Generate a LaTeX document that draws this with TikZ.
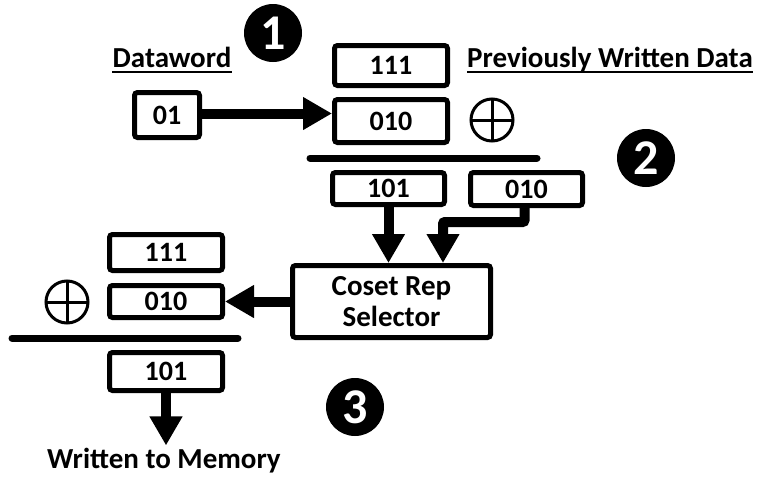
\documentclass[tikz,border=0pt]{standalone}
\usepackage{fontspec}
\setmainfont{Carlito}
\usetikzlibrary{arrows.meta,calc}

\tikzset{
  bitbox/.style={draw, line width=5pt, rounded corners=3pt, inner sep=0pt,
    font=\fontsize{28}{31}\selectfont\bfseries},
  label/.style={inner sep=0pt, font=\fontsize{29}{31}\selectfont\bfseries},
  stepnum/.style={circle, fill=black, text=white, minimum size=58pt, inner sep=0pt,
    font=\fontsize{50}{50}\selectfont\bfseries},
  flow/.style={line width=10pt, -{Triangle[width=31pt,length=29pt]}},
  rule/.style={line width=7pt, line cap=round},
  xorsym/.style={line width=3pt},
}

\begin{document}
\begin{tikzpicture}[x=1pt,y=-1pt]
\useasboundingbox (0,0) rectangle (761,480);

% step markers
\node[stepnum] (s1) at (273,33) {1};
\node[stepnum] (s2) at (646,158) {2};
\node[stepnum] (s3) at (355,407) {3};

% headings
\node[label, anchor=base] (dwlabel) at (172,67) {Dataword};
\draw[line width=2pt] ([yshift=-5pt]dwlabel.base west) -- ([yshift=-5pt]dwlabel.base east);
\node[label, anchor=base] (pwlabel) at (610,67) {Previously Written Data};
\draw[line width=2pt] ([yshift=-5pt]pwlabel.base west) -- ([yshift=-5pt]pwlabel.base east);

% step 1: dataword mapped and XORed with previous data
\node[bitbox, minimum width=65pt, minimum height=45pt] (dw) at (167,115) {01};
\node[bitbox, minimum width=113pt, minimum height=40pt] (prev) at (391,65.5) {111};
\node[bitbox, minimum width=113pt, minimum height=43pt] (map) at (391,121) {010};
\draw[flow] ([yshift=1.5pt]dw.east) -- ([yshift=1.5pt]dw.east -| map.west);

% XOR symbol
\draw[xorsym] (492,120) circle (21pt);
\draw[xorsym] (471,120) -- (513,120) (492,99) -- (492,141);

\draw[rule] (310,158) -- (537,158);

% step 2: candidates into the selector
\node[bitbox, minimum width=112pt, minimum height=32pt] (res) at (388.5,188.5) {101};
\node[bitbox, minimum width=112pt, minimum height=33pt] (cand) at (526.5,189) {010};
\node[bitbox, minimum width=198pt, minimum height=72pt, align=center,
  font=\fontsize{29}{31}\selectfont\bfseries] (coset) at (391.5,301.5) {Coset Rep\\Selector};

\draw[flow] (res.south) -- (res.south |- coset.north);
\draw[flow, rounded corners=2pt] ([xshift=-2pt]cand.south) -- ++(0,14) -| ([xshift=51.5pt]coset.north);

% step 3: XOR with chosen representative and write
\node[bitbox, minimum width=113pt, minimum height=36pt] (lprev) at (166,252.5) {111};
\node[bitbox, minimum width=113pt, minimum height=32pt] (lrep) at (166,301.5) {010};
\node[bitbox, minimum width=113pt, minimum height=38pt] (lout) at (166,371.5) {101};
\draw[flow] (coset.west) -- (lrep.east);

\draw[xorsym] (67,302) circle (21pt);
\draw[xorsym] (46,302) -- (88,302) (67,281) -- (67,323);

\draw[rule] (12,338) -- (238,338);

\node[label, anchor=base, inner sep=2pt] (mem) at (164,468) {Written to Memory};
\draw[flow] (lout.south) -- (lout.south |- mem.north);

\end{tikzpicture}
\end{document}
